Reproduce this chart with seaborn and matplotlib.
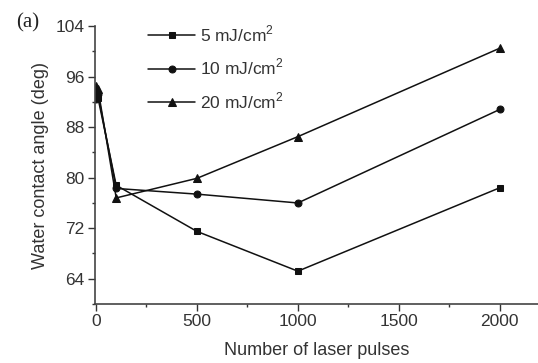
import numpy as np
import pandas as pd
import matplotlib.pyplot as plt
import seaborn as sns
from matplotlib.ticker import MultipleLocator

# Data
pulses = [0, 10, 100, 500, 1000, 2000]
angle_5 = [93.0, 92.6, 78.8, 71.5, 65.2, 78.4]
angle_10 = [92.5, 93.2, 78.3, 77.4, 76.0, 90.8]
angle_20 = [94.5, 94.0, 76.8, 79.9, 86.5, 100.5]
labels = ["5 mJ/cm$^2$", "10 mJ/cm$^2$", "20 mJ/cm$^2$"]
markers = ["s", "o", "^"]
msizes = [4.5, 5, 6]

sns.set_style("ticks")
plt.rcParams["font.family"] = ["Liberation Sans", "DejaVu Sans"]
plt.rcParams["mathtext.fontset"] = "custom"
plt.rcParams["mathtext.rm"] = "Liberation Sans"

df = pd.concat([
    pd.DataFrame({"pulses": pulses, "angle": vals, "fluence": lab})
    for vals, lab in zip([angle_5, angle_10, angle_20], labels)
])

fig = plt.figure(figsize=(5.38, 3.63), dpi=100)
ax = fig.add_axes([0.1766, 0.1625, 0.8234, 0.7655])

sns.lineplot(data=df, x="pulses", y="angle", style="fluence", markers=markers,
             dashes=False, color="#111111", linewidth=1.1,
             markeredgecolor="#111111", ax=ax, legend=False)
for line, ms in zip(ax.lines, msizes):
    line.set_markersize(ms)

ax.set_xlim(-5, 2190)
ax.set_ylim(60, 104)
ax.set_xticks([0, 500, 1000, 1500, 2000])
ax.xaxis.set_minor_locator(MultipleLocator(250))
ax.set_yticks([64, 72, 80, 88, 96, 104])
ax.yaxis.set_minor_locator(MultipleLocator(4))
ax.tick_params(axis="both", which="major", length=5, width=1, labelsize=12.5,
               colors="#333333", pad=2.5)
ax.tick_params(axis="both", which="minor", length=2.5, width=1, colors="#333333")
for s in ["top", "right"]:
    ax.spines[s].set_visible(False)
for s in ["left", "bottom"]:
    ax.spines[s].set_color("#444444")
    ax.spines[s].set_linewidth(1.2)

ax.set_xlabel("Number of laser pulses", fontsize=13, color="#333333", labelpad=9)
ax.set_ylabel("Water contact angle (deg)", fontsize=13, color="#333333", labelpad=5)

leg = ax.legend(handles=ax.lines[:3], labels=labels, loc="upper left",
                bbox_to_anchor=(0.12, 1.01), frameon=False, borderpad=0,
                borderaxespad=0, fontsize=12.5, handlelength=2.7,
                labelspacing=0.75, handletextpad=0.3)
for t in leg.get_texts():
    t.set_color("#333333")

fig.text(0.03, 0.925, "(a)", fontsize=15, family="Liberation Serif", color="#222222")

fig.savefig("out.png", dpi=100)
